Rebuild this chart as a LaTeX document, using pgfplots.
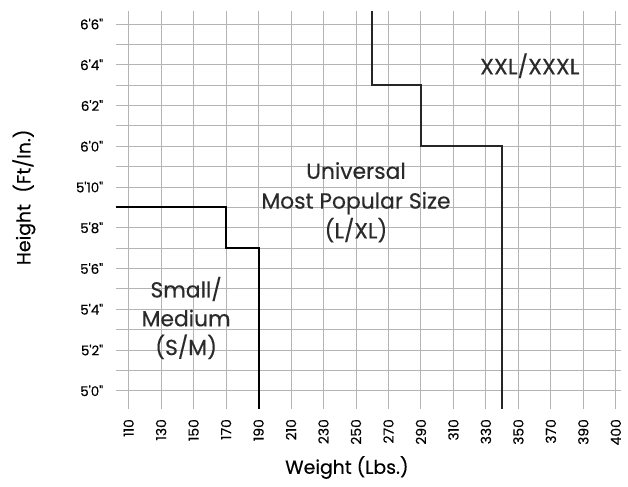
\documentclass[border=0pt]{standalone}
\usepackage{pgfplots}
\pgfplotsset{compat=1.18}
\usepackage{fontspec}
\setmainfont{Poppins}[Ligatures=TeXOff, FakeBold=0.3]
\definecolor{gridgray}{HTML}{B4B4B8}
\definecolor{txt}{HTML}{2A2A2A}
\begin{document}
\begin{tikzpicture}
\path[use as bounding box] (-116bp,-78bp) rectangle (514bp,410bp);
\begin{axis}[
    at={(0,0)}, anchor=south west,
    scale only axis, width=507bp, height=399bp,
    xmin=102, xmax=413.2, ymin=59.12, ymax=78.64,
    axis line style={draw=none},
    major tick length=0pt, minor tick length=0pt,
    xtick={110,130,...,390,410},
    xticklabels={110,130,150,170,190,210,230,250,270,290,310,330,350,370,390,400},
    ytick={60,62,...,78},
    yticklabels={5'0",5'2",5'4",5'6",5'8",5'10",6'0",6'2",6'4",6'6"},
    minor ytick={61,63,...,77},
    grid=both,
    grid style={gridgray, line width=0.9bp},
    minor grid style={gridgray, line width=0.9bp},
    xticklabel shift=7bp, yticklabel shift=9bp,
    x tick label style={rotate=90, anchor=east, inner ysep=0.5bp,
        font=\fontsize{14}{15}\selectfont, text=black},
    y tick label style={font=\fontsize{13.5}{14}\selectfont, text=black},
    clip=false,
]
% Small/Medium boundary
\addplot[black, line width=2bp] coordinates {(102,69) (170,69) (170,67) (190,67) (190,59.12)};
% Universal / XXL boundary
\addplot[black!85, line width=2bp] coordinates {(260,78.64) (260,75) (290,75) (290,72) (340,72) (340,59.12)};

\node[text=txt, font=\fontsize{22.5}{24}\selectfont] at (axis cs:357,75.95) {XXL/XXXL};
\node[text=txt, align=center, font=\fontsize{22}{30}\selectfont] at (axis cs:250,69.25)
    {Universal\\Most Popular Size\\(L/XL)};
\node[text=txt, align=center, font=\fontsize{22}{29}\selectfont] at (axis cs:145.4,63.57)
    {Small/\\Medium\\(S/M)};
\end{axis}
\node[text=black, font=\fontsize{19}{20}\selectfont] at (232bp,-59bp) {Weight (Lbs.)};
\node[text=black, rotate=90, font=\fontsize{19}{20}\selectfont] at (-92bp,212bp) {Height\hspace{0.6em}(Ft/In.)};
\end{tikzpicture}
\end{document}
